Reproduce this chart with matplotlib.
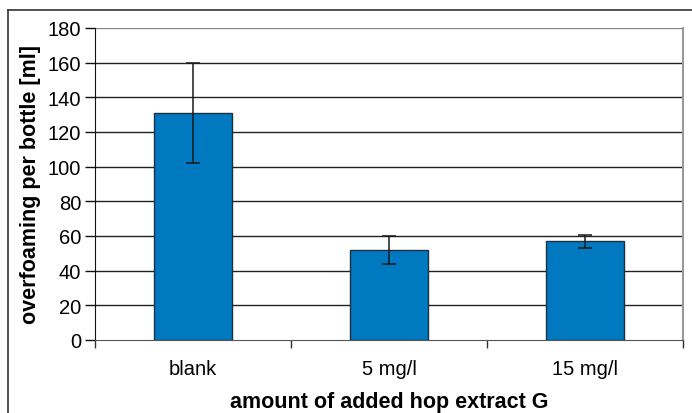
import matplotlib
matplotlib.use("Agg")
import matplotlib.pyplot as plt
from matplotlib.lines import Line2D
import numpy as np

categories = ["blank", "5 mg/l", "15 mg/l"]
values = [131, 52, 57]
errors = [29, 8, 3.8]
yticks = [0, 20, 40, 60, 80, 100, 120, 140, 160, 180]

plt.rcParams['font.family'] = ['Liberation Sans', 'DejaVu Sans']

W, H = 692, 414
fig = plt.figure(figsize=(W/100, H/100), dpi=100)
ax = fig.add_axes([95/W, (H-341)/H, 588/W, 312/H])

x = np.arange(len(categories))
ax.bar(x, values, width=0.40, color="#0079C1", edgecolor="#1f2f3f", linewidth=1.0, zorder=3)
ax.errorbar(x, values, yerr=errors, fmt="none", ecolor="#1a1a1a", elinewidth=1.1,
            capsize=5, capthick=1.1, zorder=4)

ax.set_xlim(-0.5, len(categories)-0.5)
ax.set_ylim(0, 180)
ax.set_yticks(yticks)
ax.tick_params(axis='y', labelsize=14.5, length=7, width=1, color="#111111", pad=3)
for yv in yticks[1:]:
    ax.axhline(yv, color="#888888" if yv == 180 else "#222222", linewidth=1.0, zorder=1)

ax.set_xticks(x)
ax.set_xticklabels(categories, fontsize=14.5)
ax.tick_params(axis='x', length=0, pad=14)
ax.set_xticks(np.arange(len(categories)+1) - 0.5, minor=True)
ax.tick_params(axis='x', which='minor', length=6, width=1, color="#333333")

ax.spines['left'].set_color("#111111")
ax.spines['bottom'].set_color("#555555")
ax.spines['right'].set_color("#999999")
ax.spines['right'].set_linewidth(1.5)
ax.spines['top'].set_visible(False)

ax.set_ylabel("overfoaming per bottle [ml]", fontsize=15.5, fontweight='bold')
ax.set_xlabel("amount of added hop extract G", fontsize=15.5, fontweight='bold')
ax.yaxis.set_label_coords(-0.092, 0.5)
ax.xaxis.set_label_coords(0.5, -0.163)

# outer chart frame
fig.add_artist(Line2D([8/W, 1.0], [1-11/H, 1-11/H], color="#333333", linewidth=1.2,
                      transform=fig.transFigure))
fig.add_artist(Line2D([8/W, 8/W], [0.0, 1-11/H], color="#333333", linewidth=1.2,
                      transform=fig.transFigure))

fig.savefig("out.png", dpi=100)
